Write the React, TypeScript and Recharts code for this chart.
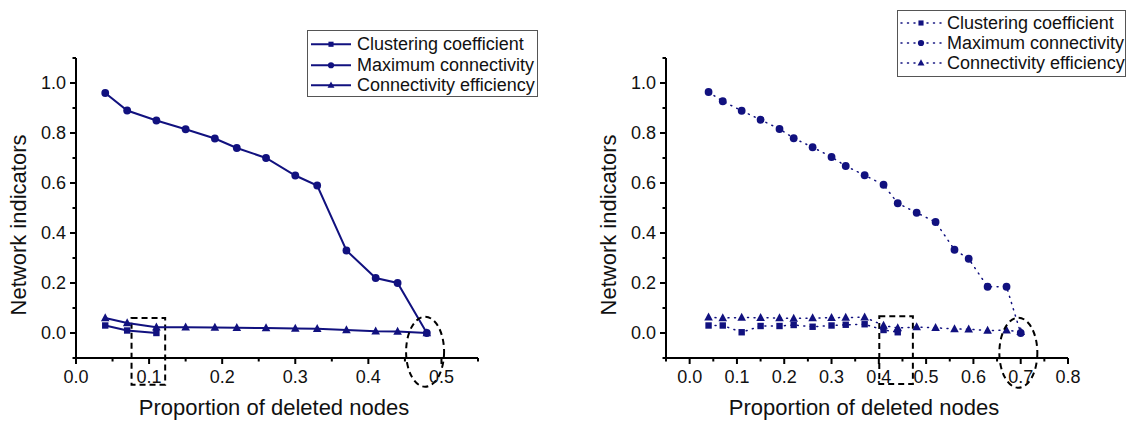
import React from "react";
import { LineChart, Line, XAxis, YAxis, ReferenceArea, ReferenceDot } from "recharts";

const NAVY = "#11117f";
const FONT = "'Liberation Sans', Arial, Helvetica, sans-serif";

const seriesNames = ["Clustering coefficient", "Maximum connectivity", "Connectivity efficiency"];

// first removal sequence
const leftProportion = [0.04, 0.07, 0.11, 0.15, 0.19, 0.22, 0.26, 0.3, 0.33, 0.37, 0.41, 0.44, 0.48];
const leftClustering = [0.03, 0.01, 0.0];
const leftMaxConnectivity = [0.96, 0.89, 0.85, 0.815, 0.778, 0.74, 0.7, 0.63, 0.59, 0.33, 0.22, 0.2, 0.0];
const leftEfficiency = [0.06, 0.04, 0.023, 0.023, 0.022, 0.021, 0.02, 0.018, 0.017, 0.012, 0.007, 0.006, 0.0];

// second removal sequence
const rightProportion = [
  0.04, 0.07, 0.11, 0.15, 0.19, 0.22, 0.26, 0.3, 0.33, 0.37, 0.41, 0.44, 0.48, 0.52, 0.56, 0.59, 0.63, 0.67, 0.7,
];
const rightClustering = [0.03, 0.03, 0.003, 0.028, 0.028, 0.032, 0.025, 0.03, 0.033, 0.035, 0.012, 0.003];
const rightMaxConnectivity = [
  0.964, 0.927, 0.889, 0.853, 0.816, 0.779, 0.743, 0.704, 0.668, 0.631, 0.593, 0.519, 0.481, 0.444, 0.333, 0.297,
  0.185, 0.185, 0.0,
];
const rightEfficiency = [
  0.063, 0.06, 0.062, 0.061, 0.06, 0.058, 0.06, 0.061, 0.062, 0.063, 0.03, 0.02, 0.024, 0.021, 0.016, 0.015, 0.01,
  0.011, 0.005,
];

const leftXTicks = [0, 0.05, 0.1, 0.15, 0.2, 0.25, 0.3, 0.35, 0.4, 0.45, 0.5, 0.55];
const rightXTicks = [-0.05, 0, 0.05, 0.1, 0.15, 0.2, 0.25, 0.3, 0.35, 0.4, 0.45, 0.5, 0.55, 0.6, 0.65, 0.7, 0.75, 0.8];
const yTicks = [-0.1, 0, 0.1, 0.2, 0.3, 0.4, 0.5, 0.6, 0.7, 0.8, 0.9, 1.0, 1.1];

type Row = { x: number; clustering: number | null; maxConnectivity: number | null; efficiency: number | null };

const buildRows = (xs: number[], c: number[], m: number[], e: number[]): Row[] =>
  xs.map((x, i) => ({
    x,
    clustering: c[i] ?? null,
    maxConnectivity: m[i] ?? null,
    efficiency: e[i] ?? null,
  }));

const leftRows = buildRows(leftProportion, leftClustering, leftMaxConnectivity, leftEfficiency);
const rightRows = buildRows(rightProportion, rightClustering, rightMaxConnectivity, rightEfficiency);

type Shape = "square" | "circle" | "triangle";
const shapes: Shape[] = ["square", "circle", "triangle"];
const keys = ["clustering", "maxConnectivity", "efficiency"];

function Marker({ shape, cx, cy, s = 1 }: { shape: Shape; cx: number; cy: number; s?: number }) {
  if (shape === "square") {
    return <rect x={cx - 3.2 * s} y={cy - 3.2 * s} width={6.4 * s} height={6.4 * s} fill={NAVY} />;
  }
  if (shape === "circle") return <circle cx={cx} cy={cy} r={3.9 * s} fill={NAVY} />;
  return (
    <polygon
      points={`${cx},${cy - 4.8 * s} ${cx - 4.3 * s},${cy + 3.2 * s} ${cx + 4.3 * s},${cy + 3.2 * s}`}
      fill={NAVY}
    />
  );
}

const dotFor = (shape: Shape) => (props: any) => {
  const { cx, cy, index } = props;
  if (typeof cy !== "number" || Number.isNaN(cy) || props.value == null) return <g key={`${shape}-${index}`} />;
  return <Marker key={`${shape}-${index}`} shape={shape} cx={cx} cy={cy} />;
};

const XTick = (props: any) => {
  const { x, y, payload } = props;
  const v = payload.value as number;
  const major = Math.abs(v * 10 - Math.round(v * 10)) < 1e-6;
  return (
    <g>
      <line x1={x} y1={y} x2={x} y2={y + (major ? 6 : 3.5)} stroke="#000" strokeWidth={2} />
      {major && (
        <text x={x} y={y + 25} textAnchor="middle" fontSize={18} fontFamily={FONT} fill="#111">
          {Math.abs(v).toFixed(1)}
        </text>
      )}
    </g>
  );
};

const YTick = (props: any) => {
  const { x, y, payload } = props;
  const v = payload.value as number;
  const major = Math.abs(v * 5 - Math.round(v * 5)) < 1e-6;
  return (
    <g>
      <line x1={x} y1={y} x2={x - (major ? 6 : 3.5)} y2={y} stroke="#000" strokeWidth={2} />
      {major && (
        <text x={x - 10} y={y} dy="0.36em" textAnchor="end" fontSize={18} fontFamily={FONT} fill="#111">
          {Math.abs(v).toFixed(1)}
        </text>
      )}
    </g>
  );
};

const XTitle = (props: any) => {
  const { x, y, width } = props.viewBox;
  return (
    <text x={x + width / 2 - 3} y={y + 57} textAnchor="middle" fontSize={22} fontFamily={FONT} fill="#111">
      Proportion of deleted nodes
    </text>
  );
};

const YTitle = (props: any) => {
  const { x, y, width, height } = props.viewBox;
  const cx = x + width - 58;
  const cy = y + height / 2 + 17;
  return (
    <text
      x={cx}
      y={cy}
      transform={`rotate(-90 ${cx} ${cy})`}
      textAnchor="middle"
      dominantBaseline="central"
      fontSize={22}
      fontFamily={FONT}
      fill="#111"
    >
      Network indicators
    </text>
  );
};

type Box = { x1: number; x2: number; y1: number; y2: number };
type Ring = { x: number; y: number };

type PanelProps = {
  rows: Row[];
  width: number;
  margin: { top: number; right: number; bottom: number; left: number };
  xDomain: [number, number];
  xTicks: number[];
  dotted: boolean;
  box: Box;
  ring: Ring;
};

function Panel({ rows, width, margin, xDomain, xTicks, dotted, box, ring }: PanelProps) {
  const stroke = dotted
    ? { strokeWidth: 1.5, strokeDasharray: "1 5.5", strokeLinecap: "round" as const }
    : { strokeWidth: 2 };
  return (
    <LineChart width={width} height={421} data={rows} margin={margin}>
      <XAxis
        dataKey="x"
        type="number"
        domain={xDomain}
        ticks={xTicks}
        interval={0}
        allowDataOverflow
        tickSize={0}
        tickMargin={0}
        tickLine={false}
        axisLine={{ stroke: "#000", strokeWidth: 2 }}
        tick={XTick}
        height={60}
        label={XTitle}
      />
      <YAxis
        type="number"
        domain={[-0.1, 1.1]}
        ticks={yTicks}
        interval={0}
        allowDataOverflow
        tickSize={0}
        tickMargin={0}
        tickLine={false}
        axisLine={{ stroke: "#000", strokeWidth: 2 }}
        tick={YTick}
        width={60}
        label={YTitle}
      />
      {keys.map((k, i) => (
        <Line
          key={k}
          dataKey={k}
          name={seriesNames[i]}
          type="linear"
          stroke={NAVY}
          {...stroke}
          dot={dotFor(shapes[i])}
          activeDot={false}
          isAnimationActive={false}
        />
      ))}
      <ReferenceArea
        x1={box.x1}
        x2={box.x2}
        y1={box.y1}
        y2={box.y2}
        ifOverflow="visible"
        fill="none"
        fillOpacity={0}
        stroke="#000"
        strokeWidth={2}
        strokeDasharray="6 4"
      />
      <ReferenceDot
        x={ring.x}
        y={ring.y}
        ifOverflow="visible"
        shape={(p: any) => (
          <ellipse
            cx={p.cx}
            cy={p.cy}
            rx={19}
            ry={35}
            fill="none"
            stroke="#000"
            strokeWidth={2}
            strokeDasharray="6 4"
          />
        )}
      />
    </LineChart>
  );
}

function LegendBox({
  left,
  top,
  width,
  dotted,
  padTop,
  rowH,
  iconEnd,
}: {
  left: number;
  top: number;
  width: number;
  dotted: boolean;
  padTop: number;
  rowH: number;
  iconEnd: number;
}) {
  return (
    <div
      style={{
        position: "absolute",
        left,
        top,
        width,
        height: 67,
        boxSizing: "border-box",
        border: "1px solid #555",
        background: "#fff",
        paddingTop: padTop,
      }}
    >
      {seriesNames.map((name, i) => (
        <div key={name} style={{ display: "flex", alignItems: "center", height: rowH }}>
          <svg width={49} height={rowH} style={{ flex: "none" }}>
            <line
              x1={3}
              x2={iconEnd}
              y1={rowH / 2}
              y2={rowH / 2}
              stroke={NAVY}
              strokeWidth={dotted ? 1.5 : 2}
              strokeDasharray={dotted ? "1 5.5" : undefined}
              strokeLinecap={dotted ? "round" : undefined}
            />
            <Marker shape={shapes[i]} cx={23} cy={rowH / 2} s={0.8} />
          </svg>
          <span style={{ fontFamily: FONT, fontSize: 18, color: "#111", whiteSpace: "nowrap", lineHeight: 1 }}>
            {name}
          </span>
        </div>
      ))}
    </div>
  );
}

export default function App() {
  return (
    <div style={{ position: "absolute", left: 0, top: 0, width: 1131, height: 421, background: "#fff" }}>
      <div style={{ position: "absolute", left: 0, top: 0 }}>
        <Panel
          rows={leftRows}
          width={560}
          margin={{ top: 58, right: 82, bottom: 3, left: 16 }}
          xDomain={[0, 0.55]}
          xTicks={leftXTicks}
          dotted={false}
          box={{ x1: 0.076, x2: 0.122, y1: -0.207, y2: 0.06 }}
          ring={{ x: 0.4776, y: -0.075 }}
        />
      </div>
      <div style={{ position: "absolute", left: 570, top: 0 }}>
        <Panel
          rows={rightRows}
          width={561}
          margin={{ top: 58, right: 63, bottom: 3, left: 36 }}
          xDomain={[-0.05, 0.8]}
          xTicks={rightXTicks}
          dotted={true}
          box={{ x1: 0.401, x2: 0.472, y1: -0.204, y2: 0.067 }}
          ring={{ x: 0.695, y: -0.079 }}
        />
      </div>
      <LegendBox left={307} top={30} width={231} dotted={false} padTop={3} rowH={20.5} iconEnd={43} />
      <LegendBox left={897} top={10} width={229} dotted={true} padTop={2} rowH={20} iconEnd={46} />
    </div>
  );
}
